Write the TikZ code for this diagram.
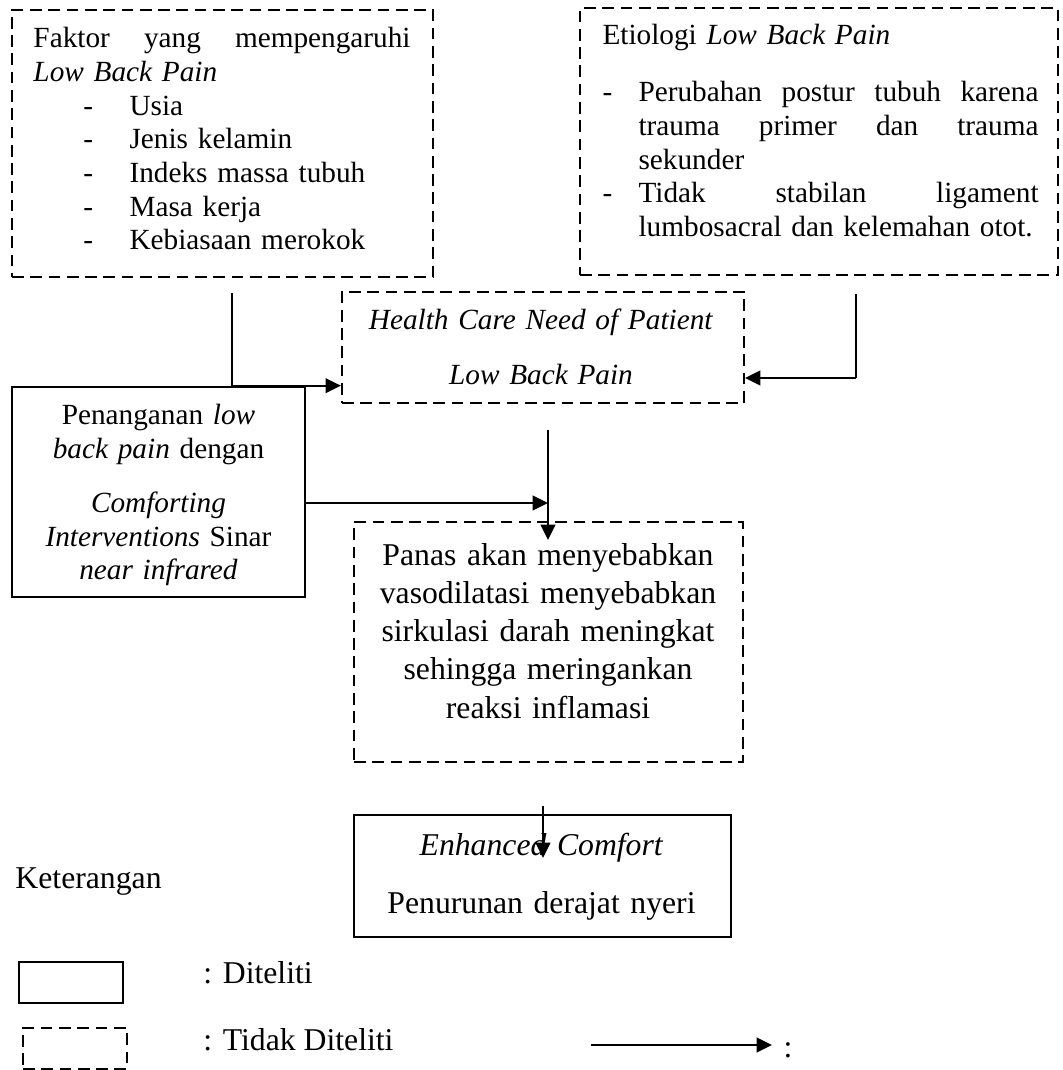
\documentclass[tikz,border=0pt]{standalone}
\usepackage{fontspec}
\setmainfont{Liberation Serif}
\usetikzlibrary{arrows.meta,fit,calc}
\tikzset{tdk/.style={draw, line width=0.9pt, dash pattern=on 4.8pt off 2.7pt, inner sep=0pt},
  dtl/.style={draw, line width=1.1pt, inner sep=0pt},
  arr/.style={line width=0.9pt, -{Triangle[length=6.3pt,width=6pt]}},
  tipis/.style={line width=0.45pt},
  teks/.style={inner sep=0pt, anchor=base west},
  tengah/.style={inner sep=0pt, anchor=base, align=center}}
\newcommand{\butir}[1]{\hspace*{20.5pt}\makebox[18.9pt][l]{-}#1}
\newcommand{\poin}{\makebox[14.8pt][l]{-}}
\newcommand{\lanjut}{\hspace*{14.8pt}}
\newcommand{\besar}{\fontsize{13}{15.7}\selectfont}

\begin{document}
\begin{tikzpicture}[x=0.41pt, y=-0.41pt, font=\fontsize{12}{13.8}\selectfont]
\useasboundingbox (0,0) rectangle (1062,1070);
\node[tdk, fit={(12,10) (433,277)}] (faktor) {};
\node[teks, text width=154.6pt] (faktortxt) at (33,48) {Faktor\hfill yang\hfill mempengaruhi\\
  \textit{Low Back Pain}\\ \butir{Usia}\\ \butir{Jenis kelamin}\\ \butir{Indeks massa tubuh}\\
  \butir{Masa kerja}\\ \butir{Kebiasaan merokok}};
\node[tdk, fit={(580,8) (1058,275)}] (etiologi) {};
\node[teks, text width=178.8pt] (etiologitxt) at (602,45) {Etiologi \textit{Low Back Pain}\\[9.5pt]
  \poin Perubahan\hfill postur\hfill tubuh\hfill karena\\ \lanjut trauma\hfill primer\hfill dan\hfill trauma\\
  \lanjut sekunder\\ \poin Tidak\hfill stabilan\hfill ligament\\ \lanjut lumbosacral dan kelemahan otot.};
\node[tdk, fit={(342,292) (744,403)}] (hc) {};
\node[tengah, text width=160pt] (hctxt) at (541,330) {\textit{Health Care Need of Patient}\\[8.7pt] \textit{Low Back Pain}};
\node[dtl, fit={(12,387) (305,597)}] (pen) {};
\node[tengah, text width=120pt] (pentxt) at (158.5,425) {Penanganan \textit{low}\\ \textit{back pain} dengan\\[8.3pt]
  \textit{Comforting}\\ \textit{Interventions} Sinar\\ \textit{near infrared}};
\node[tdk, fit={(354,522) (743,762)}] (panas) {};
\node[tengah, text width=158pt, font=\besar] (panastxt) at (548,565) {Panas akan menyebabkan\\ vasodilatasi menyebabkan\\
  sirkulasi darah meningkat\\ sehingga meringankan\\ reaksi inflamasi};
\node[dtl, fit={(354,815) (731,937)}] (enh) {};
\node[tengah, text width=150pt, font=\besar] (enhtxt) at (541.5,855) {\textit{Enhanced Comfort}\\[8.1pt] Penurunan derajat nyeri};
\node[teks, font=\besar] (ket) at (15,888) {Keterangan};
\node[dtl, fit={(19,962) (123,1003)}] (lgdtl) {};
\node[teks, font=\besar] (lgdtltxt) at (203,983) {: Diteliti};
\node[tdk, fit={(23,1028) (127,1069)}] (lgtdk) {};
\node[teks, font=\besar] (lgtdktxt) at (203,1050) {: Tidak Diteliti};
\coordinate (f1) at (232,293);
\coordinate (e1) at (856,294);
\coordinate (e2) at (856,378);
\coordinate (p1) at (548,503);
\coordinate (h1) at (548,430);
\coordinate (pz) at (543,806);
\coordinate (la) at (591,1045);
\draw[tipis] (f1) -- (f1 |- pen.north);
\draw[arr] (f1 |- pen.north) -- (hc.west |- pen.north);
\draw[tipis] (e1) -- (e2);
\draw[arr] (e2) -- (hc.east |- e2);
\draw[arr] (pen.east |- p1) -- (p1);
\draw[arr] (h1) -- ++(0,110);
\draw[arr] (pz) -- ++(0,52);
\draw[arr] (la) -- ++(181,0);
\node[teks, font=\besar] (lgarr) at (783,1057) {:};
\end{tikzpicture}
\end{document}
